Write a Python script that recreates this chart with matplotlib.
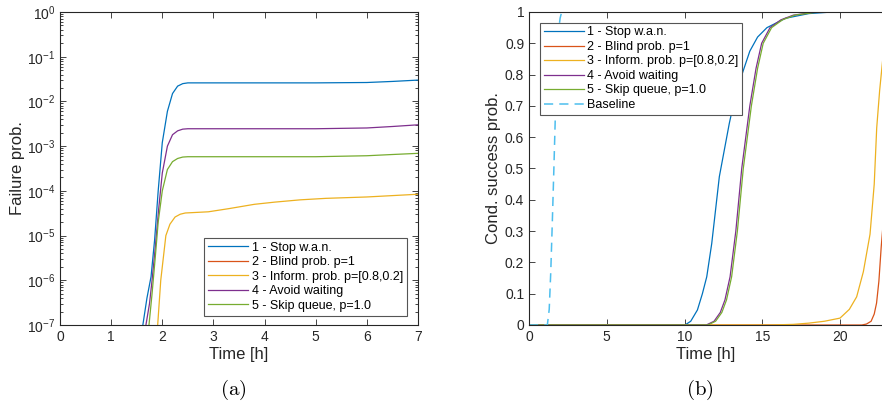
import numpy as np
import matplotlib
matplotlib.use('Agg')
import matplotlib.pyplot as plt
from matplotlib.ticker import LogLocator, NullFormatter

plt.rcParams['font.family'] = ['Liberation Sans', 'DejaVu Sans']
plt.rcParams['mathtext.fontset'] = 'custom'
plt.rcParams['mathtext.rm'] = 'Liberation Sans'

labels = ['1 - Stop w.a.n.', '2 - Blind prob. p=1', '3 - Inform. prob. p=[0.8,0.2]',
          '4 - Avoid waiting', '5 - Skip queue, p=1.0']
colors = ['#0072BD', '#D95319', '#EDB120', '#7E2F8E', '#77AC30']
base_color = '#4DBEEE'

# (a) failure probability
t1 = [1.55, 1.62, 1.70, 1.78, 1.85, 1.92, 2.0, 2.1, 2.2, 2.3, 2.4, 2.5, 3, 4, 5, 6, 6.5, 7]
f1 = [3e-8, 1e-7, 4e-7, 1.2e-6, 8e-6, 1e-4, 1.2e-3, 6e-3, 1.5e-2, 2.2e-2, 2.5e-2, 2.6e-2,
      2.6e-2, 2.6e-2, 2.6e-2, 2.65e-2, 2.8e-2, 3.0e-2]
t4 = [1.62, 1.68, 1.75, 1.8, 1.86, 1.93, 2.0, 2.1, 2.2, 2.3, 2.4, 2.5, 3, 4, 5, 6, 6.5, 7]
f4 = [3e-8, 1e-7, 3e-7, 1e-6, 5e-6, 4e-5, 2.5e-4, 1e-3, 1.8e-3, 2.2e-3, 2.4e-3, 2.45e-3,
      2.45e-3, 2.45e-3, 2.45e-3, 2.55e-3, 2.75e-3, 3.0e-3]
t5 = [1.7, 1.74, 1.8, 1.86, 1.92, 2.0, 2.1, 2.2, 2.3, 2.4, 2.5, 3, 4, 5, 6, 6.5, 7]
f5 = [3e-8, 1e-7, 5e-7, 3e-6, 2e-5, 1e-4, 3e-4, 4.5e-4, 5.3e-4, 5.7e-4, 5.8e-4, 5.8e-4,
      5.8e-4, 5.8e-4, 6.1e-4, 6.5e-4, 6.9e-4]
t3 = [1.88, 1.91, 1.97, 2.07, 2.15, 2.25, 2.35, 2.45, 2.9, 3.3, 3.8, 4.2, 4.7, 5.2, 6, 7]
f3 = [5e-8, 1e-7, 1e-6, 1e-5, 1.8e-5, 2.6e-5, 3.0e-5, 3.2e-5, 3.4e-5, 4.0e-5, 5.0e-5,
      5.6e-5, 6.3e-5, 6.8e-5, 7.3e-5, 8.4e-5]
t2 = [6.0, 7.0]
f2 = [1e-9, 1e-9]

# (b) conditional success probability
tb = [0, 1.18, 1.3, 1.4, 1.5, 1.6, 1.7, 1.8, 1.9, 2.0, 2.1, 23]
pb = [0, 0, 0.05, 0.17, 0.33, 0.5, 0.68, 0.84, 0.94, 0.98, 1.0, 1.0]
s1_t = [0, 10.03, 10.4, 10.83, 11.15, 11.43, 11.75, 12.24, 12.88, 13.3, 13.76, 14.2, 14.7,
        15.3, 16.5, 18, 19.5, 23]
s1_p = [0, 0, 0.012, 0.048, 0.1, 0.154, 0.26, 0.474, 0.644, 0.74, 0.81, 0.875, 0.92,
        0.95, 0.98, 0.995, 1.0, 1.0]
s4_t = [0, 11.4, 11.9, 12.3, 12.6, 12.93, 13.3, 13.68, 14.2, 14.6, 14.96, 15.5, 16.2, 17, 18.5, 23]
s4_p = [0, 0, 0.012, 0.04, 0.08, 0.154, 0.3, 0.5, 0.7, 0.82, 0.9, 0.95, 0.975, 0.99, 1.0, 1.0]
s5_t = [0, 11.5, 12.0, 12.4, 12.7, 13.03, 13.4, 13.78, 14.3, 14.7, 15.06, 15.6, 16.3, 17.1, 18.6, 23]
s5_p = [0, 0, 0.012, 0.04, 0.08, 0.154, 0.3, 0.5, 0.7, 0.82, 0.9, 0.95, 0.975, 0.99, 1.0, 1.0]
s3_t = [0, 15.5, 17, 18, 19, 20, 20.6, 21.07, 21.5, 21.93, 22.2, 22.36, 22.55, 22.75]
s3_p = [0, 0, 0.002, 0.006, 0.012, 0.022, 0.05, 0.09, 0.17, 0.29, 0.45, 0.63, 0.75, 0.85]
s2_t = [0, 21.4, 21.7, 22.0, 22.2, 22.35, 22.5, 22.65, 22.75]
s2_p = [0, 0, 0.003, 0.012, 0.035, 0.07, 0.14, 0.25, 0.31]

fig = plt.figure(figsize=(8.82, 4.09), dpi=100)
ax1 = fig.add_axes([60/882, 84/409, 358/882, 313/409])
ax2 = fig.add_axes([529/882, 84/409, 353/882, 313/409])

spine_c = '#262626'
for t, f, c, l in zip([t1, t2, t3, t4, t5], [f1, f2, f3, f4, f5], colors, labels):
    ax1.plot(t, f, color=c, lw=0.9, label=l)
ax1.set_yscale('log')
ax1.set_xlim(0, 7)
ax1.set_ylim(1e-7, 1)
ax1.set_xticks(range(0, 8))
ax1.yaxis.set_major_locator(LogLocator(base=10, numticks=10))
ax1.yaxis.set_minor_locator(LogLocator(base=10, subs=np.arange(2, 10), numticks=10))
ax1.yaxis.set_minor_formatter(NullFormatter())
ax1.set_xlabel('Time [h]', fontsize=12, color=spine_c, labelpad=2)
ax1.set_ylabel('Failure prob.', fontsize=12, color=spine_c, labelpad=1)
leg1 = ax1.legend(loc='lower right', bbox_to_anchor=(0.968, 0.03), fontsize=9,
                  frameon=True, fancybox=False, framealpha=1, edgecolor='#555555',
                  handlelength=3.2, handletextpad=0.3, borderpad=0.3, labelspacing=0.2,
                  borderaxespad=0)
leg1.get_frame().set_linewidth(0.8)

curves_b = [(s1_t, s1_p), (s2_t, s2_p), (s3_t, s3_p), (s4_t, s4_p), (s5_t, s5_p)]
for (t, p), c, l in zip(curves_b, colors, labels):
    ax2.plot(t, p, color=c, lw=0.9, label=l)
ax2.plot(tb, pb, color=base_color, lw=1.1, ls=(0, (6, 4)), label='Baseline')
ax2.set_xlim(0, 22.7)
ax2.set_ylim(0, 1)
ax2.set_xticks([0, 5, 10, 15, 20])
ax2.set_yticks(np.arange(0, 1.01, 0.1))
ax2.set_yticklabels(['0'] + ['%.1f' % v for v in np.arange(0.1, 0.95, 0.1)] + ['1'])
ax2.set_xlabel('Time [h]', fontsize=12, color=spine_c, labelpad=2)
ax2.set_ylabel('Cond. success prob.', fontsize=12, color=spine_c, labelpad=3)
ax2.spines['right'].set_visible(False)
leg2 = ax2.legend(loc='upper left', bbox_to_anchor=(0.031, 0.966), fontsize=9,
                  frameon=True, fancybox=False, framealpha=1, edgecolor='#555555',
                  handlelength=3.2, handletextpad=0.3, borderpad=0.3, labelspacing=0.2,
                  borderaxespad=0)
leg2.get_frame().set_linewidth(0.8)

for ax in (ax1, ax2):
    for s in ax.spines.values():
        s.set_color(spine_c)
        s.set_linewidth(0.8)
    ax.tick_params(which='both', direction='in', top=True, right=(ax is ax1),
                   colors=spine_c, labelsize=10, width=0.6)
    ax.tick_params(which='major', length=4.5)
    ax.tick_params(which='minor', length=2.2)

fig.text(233/882, 1 - 390/409, r'$\mathrm{(a)}$', fontsize=15, ha='center', va='center',
         math_fontfamily='cm')
fig.text(700/882, 1 - 390/409, r'$\mathrm{(b)}$', fontsize=15, ha='center', va='center',
         math_fontfamily='cm')

fig.savefig('out.png', dpi=100)
